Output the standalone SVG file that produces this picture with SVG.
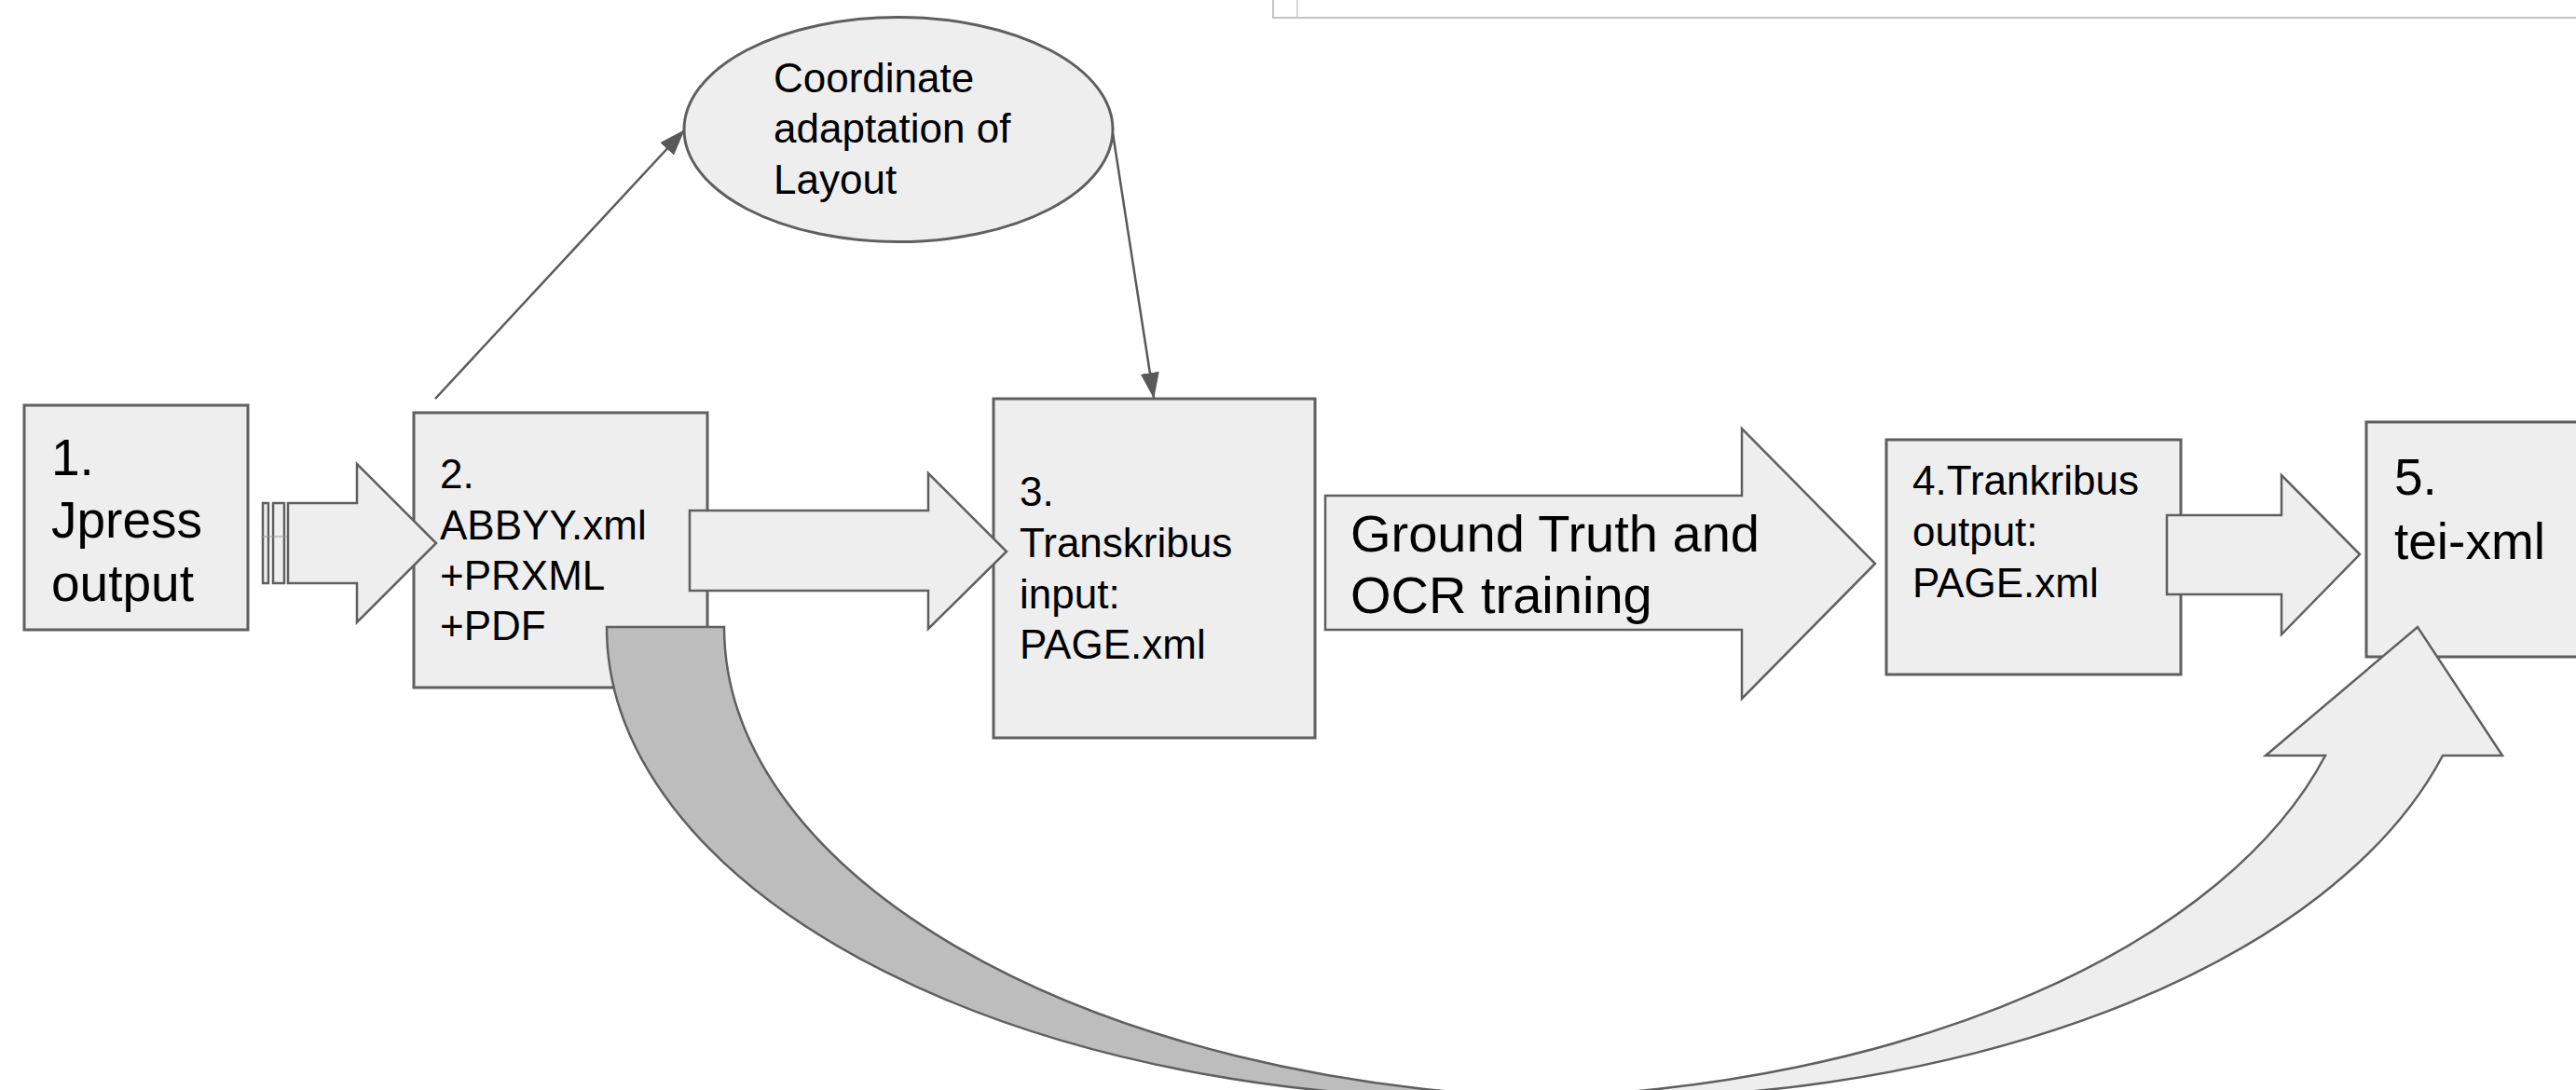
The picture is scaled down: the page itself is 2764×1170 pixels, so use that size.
<svg xmlns="http://www.w3.org/2000/svg" width="2764" height="1170" viewBox="0 0 2764 1170">
<style>
.box{fill:#eeeeee;stroke:#5f5f5f;stroke-width:3}
.blk{fill:#eeeeee;stroke:#5f5f5f;stroke-width:2.5;stroke-linejoin:miter}
.dark{fill:#bdbdbd;stroke:#5f5f5f;stroke-width:2.5}
.ln{fill:none;stroke:#595959;stroke-width:2.5}
.t{font-family:"Liberation Sans",Arial,sans-serif;fill:#000}
.big{font-size:55px}
.mid{font-size:44px}
</style>
<defs>
<marker id="ah" markerWidth="28" markerHeight="20" refX="27" refY="10" orient="auto" markerUnits="userSpaceOnUse">
<path d="M0,0 L28,10 L0,20 Z" fill="#595959"/>
</marker>
</defs>
<rect width="2764" height="1170" fill="#ffffff"/>
<g id="window-edge">
<rect x="1366" y="-10" width="1500" height="29" fill="#ffffff" stroke="#c4c4c4" stroke-width="2"/>
<line x1="1392" y1="0" x2="1392" y2="18" stroke="#d4d4d4" stroke-width="2"/>
</g>
<g id="node1">
<rect class="box" x="26" y="435" width="240" height="241"/>
<text class="t big" x="55" y="510">1.</text>
<text class="t big" x="55" y="577">Jpress</text>
<text class="t big" x="55" y="645">output</text>
</g>
<g id="node2">
<rect class="box" x="444" y="443" width="315" height="295"/>
<text class="t mid" x="472" y="524">2.</text>
<text class="t mid" x="472" y="579">ABBYY.xml</text>
<text class="t mid" x="472" y="633">+PRXML</text>
<text class="t mid" x="472" y="687">+PDF</text>
</g>
<g id="node3">
<rect class="box" x="1066" y="428" width="345" height="364"/>
<text class="t mid" x="1094" y="543">3.</text>
<text class="t mid" x="1094" y="598">Transkribus</text>
<text class="t mid" x="1094" y="653">input:</text>
<text class="t mid" x="1094" y="707">PAGE.xml</text>
</g>
<g id="node4">
<rect class="box" x="2024" y="472" width="316" height="252"/>
<text class="t mid" x="2052" y="531">4.Trankribus</text>
<text class="t mid" x="2052" y="586">output:</text>
<text class="t mid" x="2052" y="641">PAGE.xml</text>
</g>
<g id="node5">
<rect class="box" x="2539" y="453" width="300" height="252"/>
<text class="t big" x="2569" y="531">5.</text>
<text class="t big" x="2569" y="600">tei-xml</text>
</g>
<g id="node-layout">
<ellipse class="box" cx="964" cy="139" rx="230" ry="120.5" stroke-width="2.5"/>
<text class="t mid" x="830" y="99">Coordinate</text>
<text class="t mid" x="830" y="153">adaptation of</text>
<text class="t mid" x="830" y="208">Layout</text>
</g>
<g id="connectors">
<line class="ln" x1="467" y1="428" x2="734" y2="140" marker-end="url(#ah)"/>
<line class="ln" x1="1194" y1="143" x2="1238" y2="427" marker-end="url(#ah)"/>
<g id="arrow-1-2">
<rect class="blk" x="282" y="540" width="6" height="86" stroke-width="2"/>
<rect class="blk" x="293" y="540" width="12" height="86" stroke-width="2"/>
<line x1="280" y1="576" x2="309" y2="576" stroke="#9a9a9a" stroke-width="1"/>
<path class="blk" d="M309,540 L383,540 L383,498 L468,583 L383,668 L383,626 L309,626 Z"/>
</g>
<path id="arrow-2-3" class="blk" d="M740,548 L996,548 L996,508 L1080,592 L996,675 L996,634 L740,634 Z"/>
<g id="arrow-3-4">
<path class="blk" d="M1422,532 L1869,532 L1869,460 L2012,605 L1869,750 L1869,676 L1422,676 Z"/>
<text class="t" font-size="56" x="1449" y="592">Ground Truth and</text>
<text class="t" font-size="56" x="1449" y="658">OCR training</text>
</g>
<path id="arrow-4-5" class="blk" d="M2325,553 L2448,553 L2448,510 L2532,595 L2448,681 L2448,638 L2325,638 Z"/>
<g id="arrow-2-5">
<path class="dark" d="M651,673 A940,506 0 0 0 1654,1178 A940,506 0 0 1 777,673 Z"/>
<path class="blk" d="M1654,1178 A940,506 0 0 0 2621,811 L2685,811 L2594,673 L2431,811 L2495,811 A940,506 0 0 1 1654,1178 Z"/>
</g>
</g>
</svg>
